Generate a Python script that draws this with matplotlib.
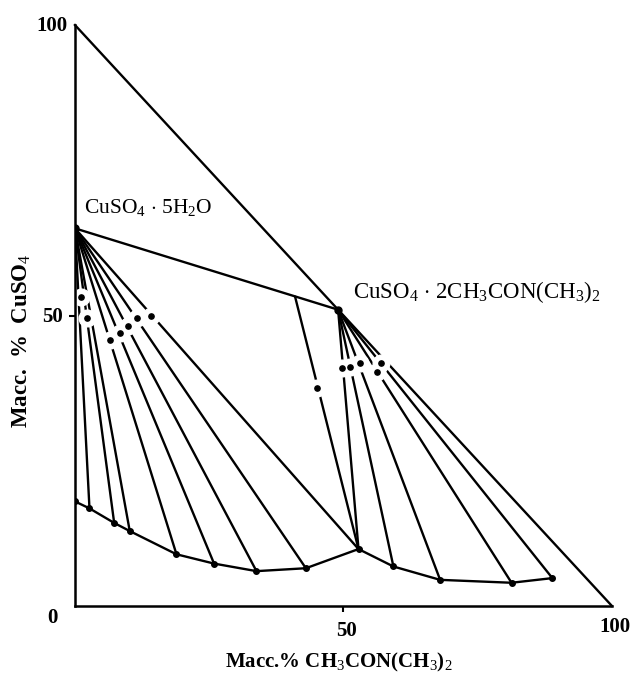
import numpy as np
import matplotlib
matplotlib.use("Agg")
import matplotlib.pyplot as plt

plt.rcParams['font.family'] = ['Liberation Serif', 'DejaVu Serif']
plt.rcParams['mathtext.fontset'] = 'custom'
plt.rcParams['mathtext.rm'] = 'Liberation Serif'
plt.rcParams['mathtext.default'] = 'rm'

# solid phases (x = mass % DMA, y = mass % CuSO4)
hydrate = (0.0, 65.0)       # CuSO4*5H2O
solvate = (49.0, 51.0)      # CuSO4*2CH3CON(CH3)2

# solubility curve, branch of the pentahydrate
left_x = [0.0, 2.7, 7.3, 10.2, 18.9, 25.9, 33.8, 43.0]
left_y = [18.0, 16.8, 14.3, 12.9, 8.9, 7.3, 6.0, 6.5]
# eutonic point
eut = (52.8, 9.8)
# branch of the solvate
right_x = [59.3, 68.0, 81.3, 88.9]
right_y = [6.8, 4.5, 4.0, 4.8]

# wet residues
res_left_x = [1.1, 2.2, 6.5, 8.4, 9.9, 11.5, 14.2]
res_left_y = [53.2, 49.6, 45.8, 47.0, 48.2, 49.6, 49.9]
res_right_x = [49.7, 51.3, 53.1, 56.9, 56.3]
res_right_y = [40.9, 41.2, 41.9, 41.9, 40.2]

# line from hydrate-solvate join down to the eutonic point
join_pt = (41.0, 53.2)
join_res = (45.0, 37.5)

fig = plt.figure(figsize=(6.37, 6.78), dpi=100)
ax = fig.add_axes([0.1177, 0.1062, 0.843, 0.8569])
ax.set_xlim(0, 100)
ax.set_ylim(0, 100)
for s in ['top', 'right']:
    ax.spines[s].set_visible(False)
for s in ['left', 'bottom']:
    ax.spines[s].set_linewidth(1.8)
    ax.spines[s].set_zorder(5)

lw = 1.7
k = 'black'

# hypotenuse and hydrate-solvate join
ax.plot([0, 100], [100, 0], color=k, lw=lw, clip_on=False)
ax.plot([hydrate[0], solvate[0]], [hydrate[1], solvate[1]], color=k, lw=lw)

# tie lines from the hydrate
for x, y in list(zip(left_x[1:], left_y[1:])) + [eut]:
    ax.plot([hydrate[0], x], [hydrate[1], y], color=k, lw=lw, zorder=2)
# tie lines from the solvate
for x, y in [eut] + list(zip(right_x, right_y)):
    ax.plot([solvate[0], x], [solvate[1], y], color=k, lw=lw, zorder=2)
ax.plot([join_pt[0], eut[0]], [join_pt[1], eut[1]], color=k, lw=lw, zorder=2)

# solubility curve
cx = left_x + [eut[0]] + right_x
cy = left_y + [eut[1]] + right_y
ax.plot(cx, cy, color=k, lw=lw, zorder=3)
ax.plot(cx, cy, 'o', color=k, ms=4, zorder=4)

# residues with white gap around them
rx = res_left_x + res_right_x + [join_res[0]]
ry = res_left_y + res_right_y + [join_res[1]]
ax.plot(rx, ry, 'o', color='white', ms=12, zorder=3)
ax.plot(rx, ry, 'o', color=k, ms=3.8, zorder=4)

ax.plot(*hydrate, 'o', color=k, ms=5, zorder=4)
ax.plot(*solvate, 'o', color=k, ms=5, zorder=4)

# ticks
ax.set_xticks([50])
ax.set_yticks([50])
ax.tick_params(direction='out', length=4.5, width=1.5, labelbottom=False, labelleft=False)

tf = dict(fontsize=15, fontweight='bold')
ax.text(-1.3, 99.8, '100', ha='right', va='center', **tf)
ax.text(-2.2, 49.7, '50', ha='right', va='center', **tf)
ax.text(-3.2, -2.1, '0', ha='right', va='center', **tf)
ax.text(50.6, -4.3, '50', ha='center', va='center', **tf)
ax.text(100.6, -3.6, '100', ha='center', va='center', **tf)

ax.text(49.2, -9.8, r'Macc.% CH$_3$CON(CH$_3$)$_2$', ha='center', va='center',
        fontsize=15, fontweight='bold')
ax.text(-9.9, 45.7, r'Macc.  %  CuSO$_4$', ha='center', va='center', rotation=90,
        fontsize=16.5, fontweight='bold')

ax.text(1.6, 68.6, r'CuSO$_4$ $\cdot$ 5H$_2$O', ha='left', va='center', fontsize=15.5)
ax.text(51.8, 54.0, r'CuSO$_4$ $\cdot$ 2CH$_3$CON(CH$_3$)$_2$', ha='left', va='center',
        fontsize=16.5)

fig.savefig('out.png', dpi=100)
